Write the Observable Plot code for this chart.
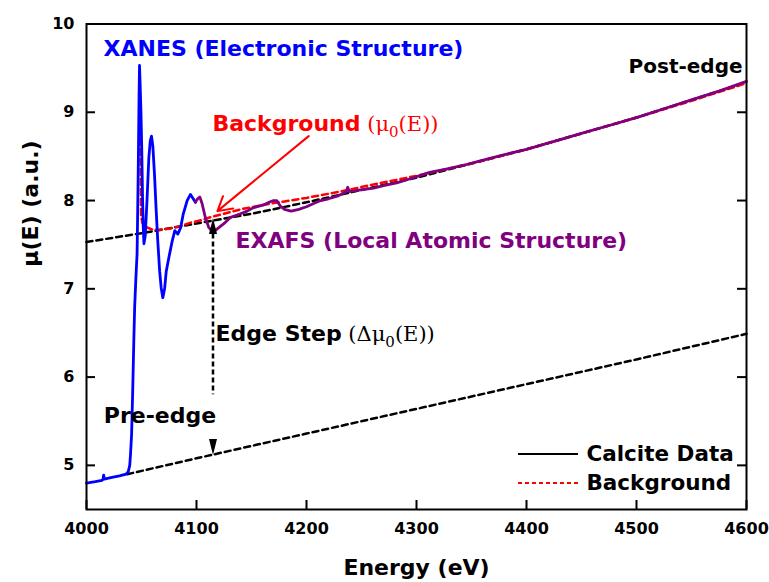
<!DOCTYPE html>
<html><head><meta charset="utf-8">
<script src="https://cdn.jsdelivr.net/npm/d3@7"></script>
<script src="https://cdn.jsdelivr.net/npm/@observablehq/plot@0.6"></script>
<style>body{margin:0;background:#fff}#chart{width:769px;height:582px}</style>
</head><body><div id="chart"></div>
<script>
// XANES part of the calcite spectrum (blue)
const xanesE = [4000,4008,4014,4015,4015.6,4016.2,4022,4030,4036,4038,4039.3,4040,4041,4042,4043,4043.8,4045,4046,4047,4047.8,4048.2,4048.8,4049.5,4050.2,4051,4051.6,4052.2,4053.4,4055,4056.7,4058,4059.1,4060.3,4061.8,4063.3,4064.8,4066.5,4067.9,4069.4,4071,4072.5,4074.8,4077.9,4080.3,4083,4085.5,4088,4091.5,4094.5,4097,4099];
const xanesMu = [4.80,4.815,4.83,4.84,4.89,4.845,4.86,4.88,4.90,4.93,5.0,5.12,5.35,5.84,6.4,6.8,7.15,7.4,8.3,9.2,9.53,9.3,9.0,8.6,8.0,7.7,7.51,7.60,8.0,8.49,8.68,8.73,8.62,8.30,7.90,7.54,7.20,7.01,6.90,7.0,7.2,7.35,7.54,7.66,7.62,7.69,7.85,8.0,8.07,8.02,7.98];
// EXAFS part (purple)
const exafsE = [4099,4101,4103,4105,4108,4111,4115,4118,4122,4126,4131,4140,4146,4152,4161,4166,4170,4173,4176,4180,4186,4193,4200,4207,4213,4220,4228,4236,4237.5,4239,4249,4261,4270,4282,4295,4312,4328,4343,4358,4380,4400,4425,4450,4475,4500,4525,4550,4575,4600];
const exafsMu = [7.98,8.02,8.04,7.97,7.81,7.70,7.64,7.67,7.71,7.75,7.81,7.85,7.88,7.92,7.95,7.98,8.0,8.0,7.94,7.90,7.88,7.90,7.93,7.97,8.00,8.02,8.05,8.10,8.15,8.10,8.12,8.14,8.17,8.20,8.25,8.32,8.36,8.40,8.45,8.52,8.58,8.67,8.76,8.85,8.94,9.04,9.14,9.24,9.35];
// Background mu0(E) (red dashed)
const bgE = [4048.6,4049.2,4049.6,4051,4054,4060,4066,4075,4085,4095,4105,4115,4125,4140,4160,4180,4200,4230,4260,4300,4350,4400,4450,4500,4550,4600];
const bgMu = [9.15,8.4,7.82,7.74,7.70,7.67,7.67,7.68,7.71,7.75,7.78,7.82,7.85,7.90,7.95,7.99,8.03,8.10,8.18,8.28,8.42,8.58,8.76,8.94,9.13,9.33];
// Post-edge fit (black dashed, upper)
const postE = [4000,4050,4100,4150,4200,4250,4300,4350,4400,4450,4500,4550,4600];
const postMu = [7.53,7.63,7.74,7.85,7.98,8.12,8.26,8.42,8.58,8.76,8.94,9.14,9.34];
// Pre-edge fit (black dashed, lower)
const preE = [4037,4100,4200,4300,4400,4500,4600];
const preMu = [4.90,5.08,5.36,5.64,5.92,6.20,6.49];
// Edge step marker
const edgeE = 4115;
const edgeTopMu = 7.62, edgeGapTopMu = 5.80;
const arrowTopMu = 7.713, arrowBottomMu = 5.208;
// Ticks
const xTicks = [4000,4100,4200,4300,4400,4500,4600];
const yTicks = [5,6,7,8,9,10];

const toPts = (E, M) => E.map((e, i) => ({E: e, mu: M[i]}));
const xanes = toPts(xanesE, xanesMu);
const exafs = toPts(exafsE, exafsMu);
const bg = toPts(bgE, bgMu);
const post = toPts(postE, postMu);
const pre = toPts(preE, preMu);

const W = 769, H = 582, mL = 86, mR = 23, mT = 23.5, mB = 73;
const iW = W - mL - mR, iH = H - mT - mB;

const tri = {draw(ctx) { ctx.moveTo(0, -8); ctx.lineTo(4, 8); ctx.lineTo(-4, 8); ctx.closePath(); }};

const annotations = [
  {text: "XANES (Electronic Structure)", E: 4015.5, mu: 9.72, color: "#0000ff", anchor: "start", size: 22, id: "a-xanes"},
  {text: "Post-edge", E: 4596.4, mu: 9.52, color: "#000", anchor: "end", size: 20, id: "a-post"},
  {text: "Background", E: 4114.5, mu: 8.873, color: "#ff0000", anchor: "start", size: 22, id: "a-bg"},
  {text: "EXAFS (Local Atomic Structure)", E: 4135.5, mu: 7.543, color: "#800080", anchor: "start", size: 22, id: "a-exafs"},
  {text: "Edge Step", E: 4117.3, mu: 6.49, color: "#000", anchor: "start", size: 22, id: "a-edge"},
  {text: "Pre-edge", E: 4015.7, mu: 5.56, color: "#000", anchor: "start", size: 22, id: "a-pre"}
];
const legendItems = [
  {label: "Calcite Data", mu: 5.13, color: "#000", dash: null},
  {label: "Background", mu: 4.80, color: "#ff0000", dash: "4,3"}
];
const legendX1 = 4392.7, legendX2 = 4447.3, legendTextX = 4454.5;

const marks = [
  Plot.line(post, {x: "E", y: "mu", stroke: "#000", strokeWidth: 2.5, strokeDasharray: "6,4"}),
  Plot.line(pre, {x: "E", y: "mu", stroke: "#000", strokeWidth: 2.5, strokeDasharray: "6,4"}),
  Plot.line(bg, {x: "E", y: "mu", stroke: "#ff0000", strokeWidth: 2.5, strokeDasharray: "6,4"}),
  Plot.line(xanes, {x: "E", y: "mu", stroke: "#0000ff", strokeWidth: 2.8, strokeLinejoin: "round"}),
  Plot.line(exafs, {x: "E", y: "mu", stroke: "#800080", strokeWidth: 2.8, strokeLinejoin: "round"}),
  Plot.ruleX([{E: edgeE, y1: edgeTopMu, y2: edgeGapTopMu}], {x: "E", y1: "y1", y2: "y2", stroke: "#000", strokeWidth: 2.5, strokeDasharray: "5,3"}),
  Plot.dot([{E: edgeE, mu: arrowTopMu, r: 0}, {E: edgeE, mu: arrowBottomMu, r: 180}], {x: "E", y: "mu", rotate: "r", symbol: tri, fill: "#000", stroke: null}),
  Plot.arrow([{x1: 4202, y1: 8.73, x2: 4119, y2: 7.88}], {x1: "x1", y1: "y1", x2: "x2", y2: "y2", stroke: "#ff0000", strokeWidth: 2, headLength: 12}),
  ...annotations.map(a => Plot.text([a], {x: "E", y: "mu", text: "text", fill: a.color, textAnchor: a.anchor, lineAnchor: "middle", fontSize: a.size, fontWeight: "bold", ariaDescription: a.id})),
  ...legendItems.map(l => Plot.ruleY([l], {y: "mu", x1: () => legendX1, x2: () => legendX2, stroke: l.color, strokeWidth: 2, strokeDasharray: l.dash})),
  Plot.text(legendItems, {x: () => legendTextX, y: "mu", text: "label", textAnchor: "start", lineAnchor: "middle", fontSize: 21.5, fontWeight: "bold", fill: "#000"}),
  Plot.tickX(xTicks, {x: d => d, insetTop: iH - 9, strokeWidth: 2}),
  Plot.tickY(yTicks, {y: d => d, insetRight: iW - 9, strokeWidth: 2}),
  Plot.tickY(yTicks, {y: d => d, insetLeft: iW - 9, strokeWidth: 2}),
  Plot.axisX({ticks: xTicks, tickSize: 0, tickPadding: 13, tickFormat: d => String(d), label: null, fontSize: 16, fontWeight: "bold"}),
  Plot.axisY({ticks: yTicks, tickSize: 0, tickPadding: 12, tickFormat: d => String(d), label: null, fontSize: 16, fontWeight: "bold"}),
  Plot.text(["Energy (eV)"], {frameAnchor: "bottom", dy: 58, text: d => d, fontSize: 22, fontWeight: "bold", lineAnchor: "middle"}),
  Plot.text(["μ(E) (a.u.)"], {frameAnchor: "left", dx: -56, rotate: -90, text: d => d, fontSize: 22, fontWeight: "bold", lineAnchor: "middle"}),
  Plot.frame({stroke: "#000", strokeWidth: 2})
];

const chart = Plot.plot({
  width: W, height: H,
  marginLeft: mL, marginRight: mR, marginTop: mT, marginBottom: mB,
  x: {domain: [4000, 4600]},
  y: {domain: [4.5, 10]},
  style: {fontFamily: "'DejaVu Sans', sans-serif", background: "#fff", color: "#000", overflow: "visible"},
  marks
});
document.getElementById("chart").appendChild(chart);

function addSerif(id, parts) {
  let t = d3.select(chart).select(`g[aria-description="${id}"] text`);
  if (t.empty()) return;
  for (const p of parts) {
    const s = t.append("tspan").attr("font-family", "'DejaVu Serif', serif").attr("font-weight", "normal")
      .attr("font-size", p.sub ? 15 : 21).text(p.text);
    if (p.dy) s.attr("dy", p.dy);
  }
}
addSerif("a-bg", [{text: " (μ"}, {text: "0", sub: true, dy: 6}, {text: "(E))", dy: -6}]);
addSerif("a-edge", [{text: " (Δμ"}, {text: "0", sub: true, dy: 6}, {text: "(E))", dy: -6}]);
</script>
</body></html>
